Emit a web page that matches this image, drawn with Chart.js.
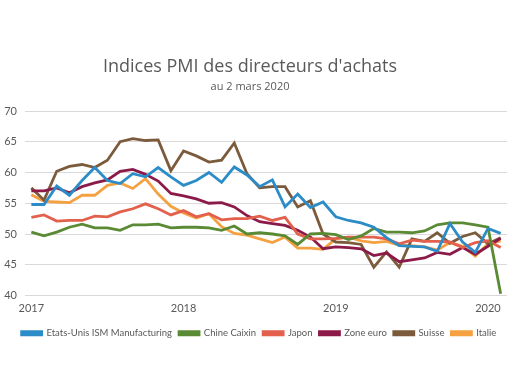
<!DOCTYPE html>
<html>
<head>
<meta charset="utf-8">
<script src="https://cdn.jsdelivr.net/npm/chart.js@4"></script>
<style>
  html, body { margin: 0; padding: 0; background: #fff; }
  #wrap { width: 518px; height: 390px; }
</style>
</head>
<body>
<div id="wrap"><canvas id="myChart" width="518" height="390"></canvas></div>
<script>
const months = [
  '2017-01','2017-02','2017-03','2017-04','2017-05','2017-06','2017-07','2017-08','2017-09','2017-10','2017-11','2017-12',
  '2018-01','2018-02','2018-03','2018-04','2018-05','2018-06','2018-07','2018-08','2018-09','2018-10','2018-11','2018-12',
  '2019-01','2019-02','2019-03','2019-04','2019-05','2019-06','2019-07','2019-08','2019-09','2019-10','2019-11','2019-12',
  '2020-01','2020-02'
];
const yearTicks = ['2017', '2018', '2019', '2020'];

const etatsUnis = [54.8, 54.8, 57.8, 56.3, 58.7, 60.8, 58.7, 58.2, 59.8, 59.3, 60.8, 59.3,
  57.9, 58.7, 60.0, 58.4, 60.9, 59.6, 57.7, 58.8, 54.4, 56.5, 54.3, 55.2,
  52.8, 52.2, 51.8, 51.1, 49.4, 48.1, 48.0, 47.9, 47.2, 51.7, 48.7, 47.0,
  50.9, 50.1];
const chine = [50.3, 49.7, 50.3, 51.1, 51.6, 51.0, 51.0, 50.6, 51.5, 51.5, 51.6, 51.0,
  51.1, 51.1, 51.0, 50.6, 51.3, 50.0, 50.2, 50.0, 49.7, 48.3, 50.0, 50.1,
  49.9, 49.1, 49.7, 50.9, 50.3, 50.3, 50.2, 50.5, 51.5, 51.8, 51.8, 51.5,
  51.1, 40.3];
const japon = [52.7, 53.1, 52.1, 52.2, 52.2, 52.9, 52.8, 53.6, 54.1, 54.9, 54.1, 53.1,
  53.8, 52.8, 53.3, 52.3, 52.5, 52.5, 52.9, 52.2, 52.7, 50.0, 49.2, 49.2,
  49.3, 49.5, 49.5, 49.5, 49.2, 48.4, 49.0, 48.8, 48.8, 48.7, 47.8, 48.6,
  48.9, 47.8];
const zoneEuro = [57.0, 57.0, 57.5, 56.7, 57.7, 58.3, 58.8, 60.2, 60.5, 59.7, 58.6, 56.6,
  56.2, 55.7, 55.0, 55.1, 54.4, 53.0, 52.0, 51.7, 51.4, 50.6, 49.5, 47.6,
  47.9, 47.8, 47.6, 46.5, 46.9, 45.5, 45.8, 46.1, 47.0, 46.7, 47.8, 46.7,
  48.0, 49.3];
const suisse = [57.5, 55.5, 60.2, 61.0, 61.3, 60.8, 62.0, 65.0, 65.5, 65.2, 65.3, 60.3,
  63.5, 62.7, 61.7, 62.0, 64.8, 59.8, 57.5, 57.7, 57.7, 54.4, 55.4, 50.0,
  48.7, 48.6, 48.3, 44.6, 47.1, 44.6, 49.2, 48.8, 50.2, 48.5, 49.6, 50.2,
  48.4, 49.4];
const italie = [56.4, 55.3, 55.2, 55.1, 56.3, 56.3, 57.9, 58.3, 57.4, 59.0, 56.5, 54.5,
  53.4, 52.6, 53.3, 51.2, 50.1, 49.8, 49.2, 48.6, 49.5, 47.7, 47.7, 47.5,
  49.2, 49.5, 48.9, 48.6, 48.8, 48.2, 48.1, 47.9, 47.4, 48.6, 48.0, 46.4,
  48.4, 48.9];

const grey = '#595959';

function serie(label, values, color) {
  return {
    label: label,
    data: values,
    borderColor: color,
    backgroundColor: color,
    borderWidth: 2.8,
    pointRadius: 0,
    tension: 0,
    fill: false
  };
}

const data = {
  labels: months,
  datasets: [
    serie('Etats-Unis ISM Manufacturing', etatsUnis, '#2B8CC8'),
    serie('Chine Caixin', chine, '#5A8A34'),
    serie('Japon', japon, '#E2604C'),
    serie('Zone euro', zoneEuro, '#8C1A48'),
    serie('Suisse', suisse, '#7B5B3C'),
    serie('Italie', italie, '#F5A142')
  ]
};

// titre centré comme dans l'original (légèrement à gauche du centre)
const titres = {
  id: 'titres',
  afterDraw(chart) {
    const ctx = chart.ctx;
    ctx.save();
    ctx.fillStyle = grey;
    ctx.textAlign = 'center';
    ctx.textBaseline = 'alphabetic';
    ctx.font = '18px "Open Sans"';
    ctx.fillText("Indices PMI des directeurs d'achats", 250, 72);
    ctx.font = '11px "Open Sans"';
    ctx.fillText('au 2 mars 2020', 250, 90);
    ctx.restore();
  }
};

const config = {
  type: 'line',
  data: data,
  plugins: [titres],
  options: {
    responsive: false,
    animation: false,
    layout: { padding: { top: 111, right: 0, left: 0, bottom: 42 } },
    plugins: {
      title: { display: false },
      tooltip: { enabled: false },
      legend: {
        position: 'bottom',
        labels: {
          boxWidth: 20,
          boxHeight: 3,
          padding: 7,
          color: grey,
          font: { family: 'Lato', size: 9.5 }
        }
      }
    },
    scales: {
      x: {
        offset: true,
        grid: { display: false, drawTicks: false },
        border: { display: false },
        ticks: {
          autoSkip: false,
          maxRotation: 0,
          padding: 6,
          color: grey,
          font: { family: 'Lato', size: 11 },
          callback: function (v, i) {
            const m = months[i];
            return m.endsWith('-01') ? yearTicks[yearTicks.indexOf(m.slice(0, 4))] : '';
          }
        },
        afterFit: s => { s.height = 26; }
      },
      y: {
        min: 40,
        max: 70,
        grid: { color: '#D9D9D9', lineWidth: 1, drawTicks: false },
        border: { display: false },
        ticks: {
          stepSize: 5,
          padding: 8,
          color: grey,
          font: { family: 'Lato', size: 11 }
        },
        afterFit: s => { s.width = 25; }
      },
      // axe vide à droite, seulement pour la marge
      marge: {
        position: 'right',
        min: 40,
        max: 70,
        grid: { display: false, drawTicks: false },
        border: { display: false },
        ticks: { display: false },
        afterFit: s => { s.width = 11; }
      }
    }
  }
};

const myChart = new Chart(document.getElementById('myChart'), config);
</script>
</body>
</html>
